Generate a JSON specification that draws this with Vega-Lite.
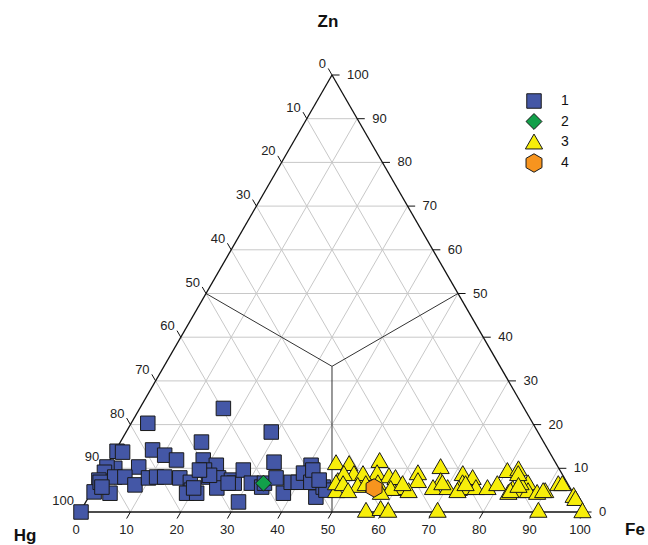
{
  "$schema": "https://vega.github.io/schema/vega-lite/v6.json",
  "width": 504,
  "height": 437,
  "autosize": {"type": "none"},
  "padding": {"left": 80, "top": 75, "right": 64, "bottom": 33},
  "background": "white",
  "config": {"view": {"stroke": null}, "font": "Liberation Sans"},
  "datasets": {
    "lines": [
      {"kind": "grid", "fe1": 0, "zn1": 10, "fe2": 90, "zn2": 10},
      {"kind": "grid", "fe1": 0, "zn1": 20, "fe2": 80, "zn2": 20},
      {"kind": "grid", "fe1": 0, "zn1": 30, "fe2": 70, "zn2": 30},
      {"kind": "grid", "fe1": 0, "zn1": 40, "fe2": 60, "zn2": 40},
      {"kind": "grid", "fe1": 0, "zn1": 50, "fe2": 50, "zn2": 50},
      {"kind": "grid", "fe1": 0, "zn1": 60, "fe2": 40, "zn2": 60},
      {"kind": "grid", "fe1": 0, "zn1": 70, "fe2": 30, "zn2": 70},
      {"kind": "grid", "fe1": 0, "zn1": 80, "fe2": 20, "zn2": 80},
      {"kind": "grid", "fe1": 0, "zn1": 90, "fe2": 10, "zn2": 90},
      {"kind": "grid", "fe1": 10, "zn1": 0, "fe2": 10, "zn2": 90},
      {"kind": "grid", "fe1": 20, "zn1": 0, "fe2": 20, "zn2": 80},
      {"kind": "grid", "fe1": 30, "zn1": 0, "fe2": 30, "zn2": 70},
      {"kind": "grid", "fe1": 40, "zn1": 0, "fe2": 40, "zn2": 60},
      {"kind": "grid", "fe1": 50, "zn1": 0, "fe2": 50, "zn2": 50},
      {"kind": "grid", "fe1": 60, "zn1": 0, "fe2": 60, "zn2": 40},
      {"kind": "grid", "fe1": 70, "zn1": 0, "fe2": 70, "zn2": 30},
      {"kind": "grid", "fe1": 80, "zn1": 0, "fe2": 80, "zn2": 20},
      {"kind": "grid", "fe1": 90, "zn1": 0, "fe2": 90, "zn2": 10},
      {"kind": "grid", "fe1": 90, "zn1": 0, "fe2": 0, "zn2": 90},
      {"kind": "grid", "fe1": 80, "zn1": 0, "fe2": 0, "zn2": 80},
      {"kind": "grid", "fe1": 70, "zn1": 0, "fe2": 0, "zn2": 70},
      {"kind": "grid", "fe1": 60, "zn1": 0, "fe2": 0, "zn2": 60},
      {"kind": "grid", "fe1": 50, "zn1": 0, "fe2": 0, "zn2": 50},
      {"kind": "grid", "fe1": 40, "zn1": 0, "fe2": 0, "zn2": 40},
      {"kind": "grid", "fe1": 30, "zn1": 0, "fe2": 0, "zn2": 30},
      {"kind": "grid", "fe1": 20, "zn1": 0, "fe2": 0, "zn2": 20},
      {"kind": "grid", "fe1": 10, "zn1": 0, "fe2": 0, "zn2": 10},
      {"kind": "center", "fe1": 33.333, "zn1": 33.333, "fe2": 50, "zn2": 0},
      {"kind": "center", "fe1": 33.333, "zn1": 33.333, "fe2": 0, "zn2": 50},
      {"kind": "center", "fe1": 33.333, "zn1": 33.333, "fe2": 50, "zn2": 50},
      {"kind": "edge", "fe1": 0, "zn1": 0, "fe2": 100, "zn2": 0},
      {"kind": "edge", "fe1": 0, "zn1": 0, "fe2": 0, "zn2": 100},
      {"kind": "edge", "fe1": 100, "zn1": 0, "fe2": 0, "zn2": 100}
    ],
    "ticks": [
      {"side": "b", "v": "0", "fe1": 0, "zn1": 0, "fe2": 0, "zn2": -1.5},
      {"side": "b", "v": "10", "fe1": 10, "zn1": 0, "fe2": 10, "zn2": -1.5},
      {"side": "b", "v": "20", "fe1": 20, "zn1": 0, "fe2": 20, "zn2": -1.5},
      {"side": "b", "v": "30", "fe1": 30, "zn1": 0, "fe2": 30, "zn2": -1.5},
      {"side": "b", "v": "40", "fe1": 40, "zn1": 0, "fe2": 40, "zn2": -1.5},
      {"side": "b", "v": "50", "fe1": 50, "zn1": 0, "fe2": 50, "zn2": -1.5},
      {"side": "b", "v": "60", "fe1": 60, "zn1": 0, "fe2": 60, "zn2": -1.5},
      {"side": "b", "v": "70", "fe1": 70, "zn1": 0, "fe2": 70, "zn2": -1.5},
      {"side": "b", "v": "80", "fe1": 80, "zn1": 0, "fe2": 80, "zn2": -1.5},
      {"side": "b", "v": "90", "fe1": 90, "zn1": 0, "fe2": 90, "zn2": -1.5},
      {"side": "b", "v": "100", "fe1": 100, "zn1": 0, "fe2": 100, "zn2": -1.5},
      {"side": "l", "v": "0", "fe1": 0, "zn1": 100, "fe2": -1.5, "zn2": 101.5},
      {"side": "l", "v": "10", "fe1": 0, "zn1": 90, "fe2": -1.5, "zn2": 91.5},
      {"side": "l", "v": "20", "fe1": 0, "zn1": 80, "fe2": -1.5, "zn2": 81.5},
      {"side": "l", "v": "30", "fe1": 0, "zn1": 70, "fe2": -1.5, "zn2": 71.5},
      {"side": "l", "v": "40", "fe1": 0, "zn1": 60, "fe2": -1.5, "zn2": 61.5},
      {"side": "l", "v": "50", "fe1": 0, "zn1": 50, "fe2": -1.5, "zn2": 51.5},
      {"side": "l", "v": "60", "fe1": 0, "zn1": 40, "fe2": -1.5, "zn2": 41.5},
      {"side": "l", "v": "70", "fe1": 0, "zn1": 30, "fe2": -1.5, "zn2": 31.5},
      {"side": "l", "v": "80", "fe1": 0, "zn1": 20, "fe2": -1.5, "zn2": 21.5},
      {"side": "l", "v": "90", "fe1": 0, "zn1": 10, "fe2": -1.5, "zn2": 11.5},
      {"side": "l", "v": "100", "fe1": 0, "zn1": 0, "fe2": -1.5, "zn2": 1.5},
      {"side": "r", "v": "0", "fe1": 100, "zn1": 0, "fe2": 101.5, "zn2": 0},
      {"side": "r", "v": "10", "fe1": 90, "zn1": 10, "fe2": 91.5, "zn2": 10},
      {"side": "r", "v": "20", "fe1": 80, "zn1": 20, "fe2": 81.5, "zn2": 20},
      {"side": "r", "v": "30", "fe1": 70, "zn1": 30, "fe2": 71.5, "zn2": 30},
      {"side": "r", "v": "40", "fe1": 60, "zn1": 40, "fe2": 61.5, "zn2": 40},
      {"side": "r", "v": "50", "fe1": 50, "zn1": 50, "fe2": 51.5, "zn2": 50},
      {"side": "r", "v": "60", "fe1": 40, "zn1": 60, "fe2": 41.5, "zn2": 60},
      {"side": "r", "v": "70", "fe1": 30, "zn1": 70, "fe2": 31.5, "zn2": 70},
      {"side": "r", "v": "80", "fe1": 20, "zn1": 80, "fe2": 21.5, "zn2": 80},
      {"side": "r", "v": "90", "fe1": 10, "zn1": 90, "fe2": 11.5, "zn2": 90},
      {"side": "r", "v": "100", "fe1": 0, "zn1": 100, "fe2": 1.5, "zn2": 100}
    ],
    "points": [
      {"type": "1", "fe": 0.2, "zn": 0},
      {"type": "1", "fe": 3.3, "zn": 20.3},
      {"type": "1", "fe": 16.6, "zn": 23.7},
      {"type": "1", "fe": 28.8, "zn": 18.3},
      {"type": "1", "fe": 16.1, "zn": 16.0},
      {"type": "1", "fe": 0.4, "zn": 13.9},
      {"type": "1", "fe": 1.6, "zn": 13.7},
      {"type": "1", "fe": 7.3, "zn": 14.2},
      {"type": "1", "fe": 10.3, "zn": 13.0},
      {"type": "1", "fe": 13.2, "zn": 11.9},
      {"type": "1", "fe": 18.5, "zn": 11.9},
      {"type": "1", "fe": 21.7, "zn": 10.7},
      {"type": "1", "fe": 32.8, "zn": 11.4},
      {"type": "1", "fe": 40.5, "zn": 10.7},
      {"type": "1", "fe": 6.5, "zn": 10.3},
      {"type": "1", "fe": 1.9, "zn": 10.0},
      {"type": "1", "fe": 0.2, "zn": 10.3},
      {"type": "1", "fe": 0.3, "zn": 9.1},
      {"type": "1", "fe": 0.1, "zn": 7.3},
      {"type": "1", "fe": 2.9, "zn": 8.0},
      {"type": "1", "fe": 4.9, "zn": 8.0},
      {"type": "1", "fe": 7.8, "zn": 6.2},
      {"type": "1", "fe": 9.7, "zn": 7.8},
      {"type": "1", "fe": 11.2, "zn": 8.0},
      {"type": "1", "fe": 12.8, "zn": 8.0},
      {"type": "1", "fe": 15.9, "zn": 7.8},
      {"type": "1", "fe": 18.5, "zn": 6.8},
      {"type": "1", "fe": 19.6, "zn": 5.0},
      {"type": "1", "fe": 19.0, "zn": 4.3},
      {"type": "1", "fe": 21.0, "zn": 4.3},
      {"type": "1", "fe": 0.5, "zn": 4.6},
      {"type": "1", "fe": 3.8, "zn": 4.3},
      {"type": "1", "fe": 0.6, "zn": 6.8},
      {"type": "1", "fe": 19.9, "zn": 9.6},
      {"type": "1", "fe": 21.5, "zn": 8.0},
      {"type": "1", "fe": 23.6, "zn": 7.8},
      {"type": "1", "fe": 24.4, "zn": 5.5},
      {"type": "1", "fe": 26.4, "zn": 7.3},
      {"type": "1", "fe": 27.3, "zn": 6.6},
      {"type": "1", "fe": 27.6, "zn": 9.6},
      {"type": "1", "fe": 30.3, "zn": 2.3},
      {"type": "1", "fe": 30.7, "zn": 6.6},
      {"type": "1", "fe": 33.2, "zn": 5.7},
      {"type": "1", "fe": 33.3, "zn": 6.6},
      {"type": "1", "fe": 35.0, "zn": 7.8},
      {"type": "1", "fe": 38.2, "zn": 4.3},
      {"type": "1", "fe": 38.5, "zn": 6.8},
      {"type": "1", "fe": 39.9, "zn": 6.8},
      {"type": "1", "fe": 39.9, "zn": 8.9},
      {"type": "1", "fe": 42.4, "zn": 6.8},
      {"type": "1", "fe": 45.1, "zn": 3.4},
      {"type": "1", "fe": 45.4, "zn": 5.7},
      {"type": "1", "fe": 46.3, "zn": 5.0},
      {"type": "1", "fe": 26.1, "zn": 6.6},
      {"type": "1", "fe": 21.5, "zn": 8.4},
      {"type": "1", "fe": 19.8, "zn": 5.5},
      {"type": "1", "fe": 1.5, "zn": 5.7},
      {"type": "1", "fe": 41.4, "zn": 9.6},
      {"type": "1", "fe": 43.8, "zn": 7.3},
      {"type": "1", "fe": 18.9, "zn": 9.6},
      {"type": "3", "fe": 45.1, "zn": 11.4},
      {"type": "3", "fe": 47.8, "zn": 11.2},
      {"type": "3", "fe": 53.5, "zn": 11.9},
      {"type": "3", "fe": 62.5, "zn": 9.1},
      {"type": "3", "fe": 66.3, "zn": 10.5},
      {"type": "3", "fe": 71.5, "zn": 8.9},
      {"type": "3", "fe": 73.9, "zn": 8.0},
      {"type": "3", "fe": 80.0, "zn": 9.6},
      {"type": "3", "fe": 82.0, "zn": 10.0},
      {"type": "3", "fe": 47.5, "zn": 7.3},
      {"type": "3", "fe": 49.9, "zn": 8.9},
      {"type": "3", "fe": 52.1, "zn": 8.4},
      {"type": "3", "fe": 54.4, "zn": 9.1},
      {"type": "3", "fe": 57.1, "zn": 8.4},
      {"type": "3", "fe": 63.4, "zn": 7.3},
      {"type": "3", "fe": 67.9, "zn": 7.3},
      {"type": "3", "fe": 72.5, "zn": 6.8},
      {"type": "3", "fe": 67.2, "zn": 5.7},
      {"type": "3", "fe": 70.1, "zn": 5.7},
      {"type": "3", "fe": 72.4, "zn": 5.5},
      {"type": "3", "fe": 74.1, "zn": 5.7},
      {"type": "3", "fe": 75.7, "zn": 5.7},
      {"type": "3", "fe": 78.0, "zn": 5.7},
      {"type": "3", "fe": 79.5, "zn": 6.6},
      {"type": "3", "fe": 83.1, "zn": 5.5},
      {"type": "3", "fe": 84.3, "zn": 5.0},
      {"type": "3", "fe": 85.5, "zn": 6.8},
      {"type": "3", "fe": 86.4, "zn": 5.0},
      {"type": "3", "fe": 88.4, "zn": 4.6},
      {"type": "3", "fe": 89.8, "zn": 5.0},
      {"type": "3", "fe": 91.6, "zn": 6.6},
      {"type": "3", "fe": 92.4, "zn": 6.6},
      {"type": "3", "fe": 96.0, "zn": 3.9},
      {"type": "3", "fe": 96.7, "zn": 3.2},
      {"type": "3", "fe": 99.5, "zn": 0.4},
      {"type": "3", "fe": 90.7, "zn": 0.5},
      {"type": "3", "fe": 70.7, "zn": 0.5},
      {"type": "3", "fe": 56.5, "zn": 0.5},
      {"type": "3", "fe": 59.2, "zn": 0.9},
      {"type": "3", "fe": 60.9, "zn": 0.5},
      {"type": "3", "fe": 48.3, "zn": 5.0},
      {"type": "3", "fe": 59.3, "zn": 5.5},
      {"type": "3", "fe": 60.8, "zn": 5.7},
      {"type": "3", "fe": 62.7, "zn": 5.0},
      {"type": "3", "fe": 84.0, "zn": 6.8},
      {"type": "3", "fe": 82.7, "zn": 4.6},
      {"type": "3", "fe": 47.9, "zn": 8.9},
      {"type": "3", "fe": 51.7, "zn": 8.9},
      {"type": "3", "fe": 58.6, "zn": 8.0},
      {"type": "3", "fe": 47.4, "zn": 6.8},
      {"type": "3", "fe": 48.9, "zn": 6.6},
      {"type": "3", "fe": 52.0, "zn": 6.2},
      {"type": "3", "fe": 53.4, "zn": 6.6},
      {"type": "3", "fe": 55.7, "zn": 6.8},
      {"type": "3", "fe": 58.9, "zn": 5.5},
      {"type": "3", "fe": 60.7, "zn": 6.6},
      {"type": "3", "fe": 68.5, "zn": 6.8},
      {"type": "3", "fe": 50.7, "zn": 5.0},
      {"type": "3", "fe": 57.4, "zn": 4.6},
      {"type": "3", "fe": 82.5, "zn": 8.9},
      {"type": "3", "fe": 72.4, "zn": 5.0},
      {"type": "3", "fe": 73.2, "zn": 6.6},
      {"type": "3", "fe": 82.9, "zn": 5.0},
      {"type": "3", "fe": 83.9, "zn": 6.2},
      {"type": "3", "fe": 89.4, "zn": 5.0},
      {"type": "2", "fe": 33.1, "zn": 6.6},
      {"type": "4", "fe": 55.6, "zn": 5.5}
    ]
  },
  "layer": [
    {
      "data": {"name": "lines"},
      "transform": [
        {"filter": "datum.kind === 'grid'"},
        {"calculate": "datum.fe1 + datum.zn1 / 2", "as": "x1"},
        {"calculate": "datum.zn1", "as": "y1"},
        {"calculate": "datum.fe2 + datum.zn2 / 2", "as": "x2"},
        {"calculate": "datum.zn2", "as": "y2"}
      ],
      "mark": {"type": "rule", "color": "#c8c8c8", "strokeWidth": 1},
      "encoding": {
        "x": {"field": "x1", "type": "quantitative", "scale": {"domain": [0, 100], "nice": false, "zero": false}, "axis": null},
        "y": {"field": "y1", "type": "quantitative", "scale": {"domain": [0, 100], "nice": false, "zero": false}, "axis": null},
        "x2": {"field": "x2"},
        "y2": {"field": "y2"}
      }
    },
    {
      "data": {"name": "lines"},
      "transform": [
        {"filter": "datum.kind === 'center'"},
        {"calculate": "datum.fe1 + datum.zn1 / 2", "as": "x1"},
        {"calculate": "datum.zn1", "as": "y1"},
        {"calculate": "datum.fe2 + datum.zn2 / 2", "as": "x2"},
        {"calculate": "datum.zn2", "as": "y2"}
      ],
      "mark": {"type": "rule", "color": "#333333", "strokeWidth": 1},
      "encoding": {
        "x": {"field": "x1", "type": "quantitative", "axis": null},
        "y": {"field": "y1", "type": "quantitative", "axis": null},
        "x2": {"field": "x2"},
        "y2": {"field": "y2"}
      }
    },
    {
      "data": {"name": "lines"},
      "transform": [
        {"filter": "datum.kind === 'edge'"},
        {"calculate": "datum.fe1 + datum.zn1 / 2", "as": "x1"},
        {"calculate": "datum.zn1", "as": "y1"},
        {"calculate": "datum.fe2 + datum.zn2 / 2", "as": "x2"},
        {"calculate": "datum.zn2", "as": "y2"}
      ],
      "mark": {"type": "rule", "color": "#111111", "strokeWidth": 1.3},
      "encoding": {
        "x": {"field": "x1", "type": "quantitative", "axis": null},
        "y": {"field": "y1", "type": "quantitative", "axis": null},
        "x2": {"field": "x2"},
        "y2": {"field": "y2"}
      }
    },
    {
      "data": {"name": "ticks"},
      "transform": [
        {"calculate": "datum.fe1 + datum.zn1 / 2", "as": "x1"},
        {"calculate": "datum.zn1", "as": "y1"},
        {"calculate": "datum.fe2 + datum.zn2 / 2", "as": "x2"},
        {"calculate": "datum.zn2", "as": "y2"}
      ],
      "mark": {"type": "rule", "color": "#111111", "strokeWidth": 1},
      "encoding": {
        "x": {"field": "x1", "type": "quantitative", "axis": null},
        "y": {"field": "y1", "type": "quantitative", "axis": null},
        "x2": {"field": "x2"},
        "y2": {"field": "y2"}
      }
    },
    {
      "data": {"name": "ticks"},
      "transform": [
        {"filter": "datum.side === 'b'"},
        {"calculate": "datum.fe1 + datum.zn1 / 2", "as": "x1"},
        {"calculate": "datum.zn1", "as": "y1"}
      ],
      "mark": {"type": "text", "align": "center", "baseline": "middle", "dx": -4, "dy": 18, "fontSize": 13, "color": "#222222", "font": "Liberation Sans"},
      "encoding": {
        "x": {"field": "x1", "type": "quantitative", "axis": null},
        "y": {"field": "y1", "type": "quantitative", "axis": null},
        "text": {"field": "v"}
      }
    },
    {
      "data": {"name": "ticks"},
      "transform": [
        {"filter": "datum.side === 'l'"},
        {"calculate": "datum.fe1 + datum.zn1 / 2", "as": "x1"},
        {"calculate": "datum.zn1", "as": "y1"}
      ],
      "mark": {"type": "text", "align": "right", "baseline": "middle", "dx": -6, "dy": -11, "fontSize": 13, "color": "#222222", "font": "Liberation Sans"},
      "encoding": {
        "x": {"field": "x1", "type": "quantitative", "axis": null},
        "y": {"field": "y1", "type": "quantitative", "axis": null},
        "text": {"field": "v"}
      }
    },
    {
      "data": {"name": "ticks"},
      "transform": [
        {"filter": "datum.side === 'r'"},
        {"calculate": "datum.fe1 + datum.zn1 / 2", "as": "x1"},
        {"calculate": "datum.zn1", "as": "y1"}
      ],
      "mark": {"type": "text", "align": "left", "baseline": "middle", "dx": 15, "dy": 0, "fontSize": 13, "color": "#222222", "font": "Liberation Sans"},
      "encoding": {
        "x": {"field": "x1", "type": "quantitative", "axis": null},
        "y": {"field": "y1", "type": "quantitative", "axis": null},
        "text": {"field": "v"}
      }
    },
    {
      "data": {"name": "points"},
      "transform": [
        {"calculate": "datum.fe + datum.zn / 2", "as": "x1"},
        {"calculate": "datum.zn", "as": "y1"}
      ],
      "mark": {"type": "point", "filled": true, "opacity": 1, "stroke": "#1a1a1a", "strokeWidth": 1},
      "encoding": {
        "x": {"field": "x1", "type": "quantitative", "axis": null},
        "y": {"field": "y1", "type": "quantitative", "axis": null},
        "color": {
          "field": "type", "type": "nominal",
          "scale": {"domain": ["1", "2", "3", "4"], "range": ["#4457a6", "#12a04a", "#f7ee0a", "#f7941e"]},
          "legend": {
            "title": null, "orient": "none", "legendX": 444, "legendY": 18, "padding": 0,
            "labelFont": "Liberation Sans", "labelFontSize": 14, "labelColor": "#111111", "labelOffset": 17,
            "rowPadding": 0, "symbolStrokeColor": "#1a1a1a", "symbolStrokeWidth": 1, "symbolOpacity": 1
          }
        },
        "shape": {
          "field": "type", "type": "nominal",
          "scale": {"domain": ["1", "2", "3", "4"], "range": ["square", "diamond", "triangle-up", "M0,-1L0.866,-0.5L0.866,0.5L0,1L-0.866,0.5L-0.866,-0.5Z"]}
        },
        "size": {
          "field": "type", "type": "nominal",
          "scale": {"domain": ["1", "2", "3", "4"], "range": [210, 340, 270, 215]}
        }
      }
    },
    {
      "data": {"values": [{"label": "Zn", "fe": 0, "zn": 100}]},
      "transform": [
        {"calculate": "datum.fe + datum.zn / 2", "as": "x1"},
        {"calculate": "datum.zn", "as": "y1"}
      ],
      "mark": {"type": "text", "align": "center", "baseline": "alphabetic", "dx": -4, "dy": -48, "fontSize": 17, "fontWeight": "bold", "color": "#111111", "font": "Liberation Sans"},
      "encoding": {
        "x": {"field": "x1", "type": "quantitative", "axis": null},
        "y": {"field": "y1", "type": "quantitative", "axis": null},
        "text": {"field": "label"}
      }
    },
    {
      "data": {"values": [{"label": "Hg", "fe": 0, "zn": 0}]},
      "transform": [
        {"calculate": "datum.fe + datum.zn / 2", "as": "x1"},
        {"calculate": "datum.zn", "as": "y1"}
      ],
      "mark": {"type": "text", "align": "center", "baseline": "alphabetic", "dx": -55, "dy": 29, "fontSize": 17, "fontWeight": "bold", "color": "#111111", "font": "Liberation Sans"},
      "encoding": {
        "x": {"field": "x1", "type": "quantitative", "axis": null},
        "y": {"field": "y1", "type": "quantitative", "axis": null},
        "text": {"field": "label"}
      }
    },
    {
      "data": {"values": [{"label": "Fe", "fe": 100, "zn": 0}]},
      "transform": [
        {"calculate": "datum.fe + datum.zn / 2", "as": "x1"},
        {"calculate": "datum.zn", "as": "y1"}
      ],
      "mark": {"type": "text", "align": "center", "baseline": "alphabetic", "dx": 51, "dy": 23, "fontSize": 17, "fontWeight": "bold", "color": "#111111", "font": "Liberation Sans"},
      "encoding": {
        "x": {"field": "x1", "type": "quantitative", "axis": null},
        "y": {"field": "y1", "type": "quantitative", "axis": null},
        "text": {"field": "label"}
      }
    }
  ]
}
